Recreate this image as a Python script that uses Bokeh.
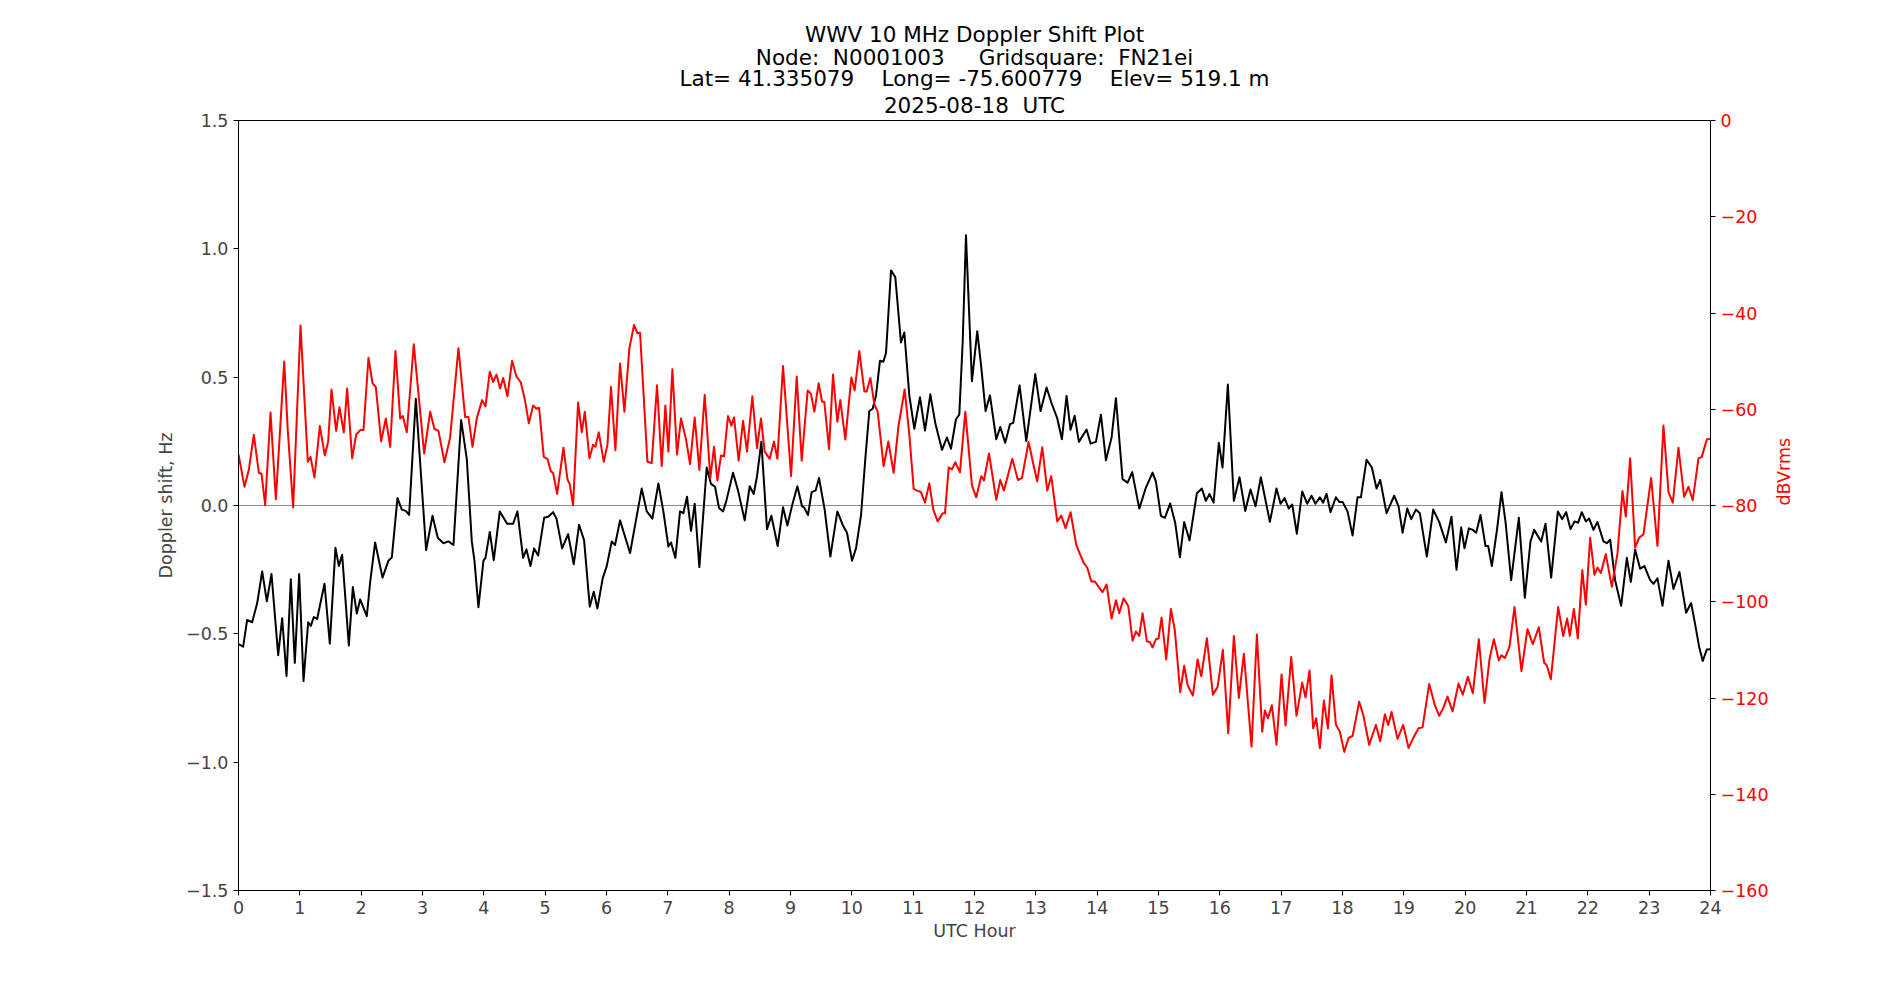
import math
from bokeh.plotting import figure
from bokeh.models import Range1d, LinearAxis, FixedTicker, Title, Span
from bokeh.embed import file_html
from bokeh.resources import INLINE

# ---------------- data ----------------
hours_doppler = [
    0.0, 0.076, 0.141, 0.223, 0.305, 0.386, 0.462, 0.538, 0.647, 0.712, 0.783, 0.853, 0.918, 0.989,
    1.060, 1.136, 1.179, 1.228, 1.282, 1.402, 1.489, 1.581, 1.636, 1.690, 1.799, 1.864,
    1.929, 1.983, 2.092, 2.147, 2.228, 2.348, 2.445, 2.500, 2.592, 2.663, 2.728, 2.782, 2.891,
    3.059, 3.163, 3.249, 3.342, 3.423, 3.505, 3.630, 3.722, 3.804, 3.847, 3.912,
    3.994, 4.027, 4.097, 4.162, 4.260, 4.380, 4.477, 4.548, 4.640, 4.695, 4.760, 4.820, 4.885,
    4.983, 5.048, 5.130, 5.184, 5.276, 5.374, 5.466, 5.553, 5.635, 5.727, 5.792, 5.852,
    5.938, 6.004, 6.085, 6.139, 6.221, 6.384, 6.574, 6.656, 6.748, 6.846, 6.927, 7.009, 7.052,
    7.123, 7.199, 7.253, 7.313, 7.378, 7.438, 7.514, 7.634, 7.704, 7.769, 7.835, 7.900,
    7.954, 8.063, 8.144, 8.253, 8.335, 8.400, 8.454, 8.525, 8.617, 8.688, 8.791, 8.878, 8.949,
    9.030, 9.112, 9.188, 9.220, 9.285, 9.345, 9.411, 9.465, 9.557, 9.650, 9.764, 9.856,
    9.921, 10.003, 10.068, 10.150, 10.220, 10.285, 10.340, 10.394, 10.459, 10.514, 10.557, 10.639,
    10.709, 10.801, 10.856, 10.937, 11.019, 11.111, 11.193, 11.280, 11.361, 11.470, 11.551, 11.616,
    11.698, 11.752, 11.807, 11.861,
    11.958, 12.045, 12.110, 12.181, 12.252, 12.355, 12.420, 12.501, 12.578, 12.632, 12.735, 12.844,
    12.991, 13.077, 13.175, 13.251, 13.349, 13.425, 13.501, 13.566, 13.632, 13.702, 13.827, 13.893,
    13.980, 14.061, 14.143, 14.235, 14.306, 14.414, 14.496, 14.572, 14.686, 14.795, 14.903, 14.958,
    15.039, 15.104, 15.191, 15.272, 15.349, 15.419, 15.506, 15.626, 15.707, 15.772, 15.832, 15.898,
    15.984, 16.044, 16.131, 16.229, 16.321, 16.414, 16.501, 16.582, 16.669, 16.816, 16.924, 16.990,
    17.055, 17.125, 17.180, 17.256, 17.343, 17.424, 17.495, 17.560, 17.631, 17.685, 17.740, 17.805,
    17.892, 17.946, 18.001, 18.082, 18.164, 18.245, 18.300, 18.392, 18.479, 18.555, 18.615, 18.718,
    18.843, 18.914, 18.979, 19.055, 19.120, 19.196, 19.261, 19.375, 19.479, 19.576, 19.685, 19.777,
    19.859, 19.935, 19.989, 20.060, 20.125, 20.180, 20.250, 20.332, 20.375, 20.435, 20.522, 20.592,
    20.658, 20.750, 20.875, 20.973, 21.065, 21.125, 21.239, 21.310, 21.402, 21.511, 21.581, 21.647,
    21.717, 21.783, 21.842, 21.902, 21.967, 22.022, 22.092, 22.157, 22.255, 22.310, 22.364, 22.445,
    22.543, 22.636, 22.701, 22.771, 22.853, 22.923, 23.016, 23.070, 23.135, 23.217, 23.315, 23.396,
    23.494, 23.603, 23.684, 23.749, 23.815, 23.874, 23.939, 24.0,
]
doppler_hz = [
    -0.54, -0.55, -0.446, -0.455, -0.38, -0.257, -0.373, -0.267, -0.583, -0.439, -0.664, -0.287, -0.613, -0.267,
    -0.684, -0.455, -0.469, -0.435, -0.442, -0.305, -0.538, -0.165, -0.236, -0.192, -0.545, -0.318,
    -0.421, -0.366, -0.431, -0.298, -0.144, -0.281, -0.215, -0.202, 0.029, -0.016, -0.021, -0.037, 0.416,
    -0.174, -0.040, -0.126, -0.147, -0.140, -0.154, 0.333, 0.182, -0.140, -0.215, -0.396,
    -0.215, -0.204, -0.103, -0.213, -0.023, -0.071, -0.071, -0.023, -0.204, -0.171, -0.236, -0.167, -0.195,
    -0.048, -0.044, -0.026, -0.051, -0.167, -0.112, -0.229, -0.075, -0.136, -0.394, -0.336, -0.401,
    -0.284, -0.236, -0.140, -0.154, -0.058, -0.185, 0.066, -0.023, -0.051, 0.086, -0.023, -0.160, -0.144,
    -0.204, -0.023, -0.030, 0.034, -0.099, 0.007, -0.240, 0.148, 0.084, 0.073, -0.010, -0.023,
    0.018, 0.128, 0.059, -0.058, 0.075, 0.045, 0.114, 0.248, -0.092, -0.040, -0.158, -0.007, -0.078,
    0.004, 0.075, -0.003, -0.007, -0.037, 0.052, 0.059, 0.107, -0.016, -0.199, -0.023, -0.078,
    -0.106, -0.215, -0.167, -0.037, 0.182, 0.368, 0.377, 0.429, 0.564, 0.560, 0.594, 0.916,
    0.889, 0.635, 0.674, 0.429, 0.299, 0.422, 0.292, 0.433, 0.320, 0.217, 0.265, 0.221,
    0.336, 0.354, 0.635, 1.053,
    0.484, 0.679, 0.539, 0.368, 0.429, 0.258, 0.306, 0.244, 0.317, 0.322, 0.468, 0.251,
    0.512, 0.368, 0.460, 0.402, 0.340, 0.258, 0.427, 0.295, 0.350, 0.248, 0.296, 0.241,
    0.248, 0.354, 0.176, 0.265, 0.418, 0.103, 0.089, 0.130, -0.012, 0.070, 0.128, 0.093,
    -0.040, -0.048, 0.008, -0.067, -0.202, -0.064, -0.136, 0.048, 0.066, 0.018, 0.045, 0.011,
    0.244, 0.148, 0.471, 0.018, 0.110, -0.021, 0.062, -0.003, 0.110, -0.064, 0.066, 0.007,
    0.029, -0.012, 0.004, -0.110, 0.055, 0.007, 0.038, 0.007, 0.032, 0.011, 0.045, -0.026,
    0.032, 0.014, 0.014, -0.023, -0.117, 0.032, 0.032, 0.178, 0.148, 0.066, 0.100, -0.030,
    0.038, -0.003, -0.106, -0.012, -0.053, -0.016, -0.030, -0.199, -0.016, -0.064, -0.144, -0.044,
    -0.250, -0.085, -0.167, -0.089, -0.095, -0.106, -0.037, -0.158, -0.158, -0.236, -0.089, 0.052,
    -0.064, -0.291, -0.048, -0.359, -0.140, -0.095, -0.140, -0.071, -0.281, -0.023, -0.053, -0.026,
    -0.092, -0.062, -0.067, -0.026, -0.062, -0.051, -0.095, -0.064, -0.140, -0.147, -0.133, -0.291,
    -0.391, -0.204, -0.298, -0.171, -0.246, -0.236, -0.291, -0.305, -0.284, -0.391, -0.215, -0.325,
    -0.259, -0.418, -0.380, -0.462, -0.551, -0.606, -0.561, -0.56,
]

hours_power = [
    0.0, 0.098, 0.169, 0.250, 0.332, 0.375, 0.435, 0.522, 0.609, 0.745, 0.804, 0.891, 1.011, 1.130,
    1.174, 1.239, 1.326, 1.407, 1.462, 1.516, 1.592, 1.646, 1.717, 1.771, 1.853,
    1.918, 1.989, 2.038, 2.119, 2.185, 2.239, 2.326, 2.402, 2.473, 2.559, 2.636, 2.679, 2.744, 2.858,
    3.027, 3.125, 3.195, 3.260, 3.358, 3.450, 3.586, 3.695, 3.749, 3.815, 3.885,
    3.972, 4.027, 4.097, 4.152, 4.206, 4.266, 4.315, 4.385, 4.461, 4.532, 4.602, 4.668, 4.733,
    4.804, 4.858, 4.901, 4.977, 5.037, 5.092, 5.130, 5.195, 5.298, 5.363, 5.401, 5.455, 5.537,
    5.597, 5.646, 5.722, 5.781, 5.819, 5.874,
    5.955, 6.015, 6.074, 6.145, 6.221, 6.292, 6.373, 6.449, 6.503, 6.547, 6.667, 6.737, 6.824,
    6.900, 6.960, 7.009, 7.074, 7.150, 7.215, 7.297, 7.362, 7.438, 7.514, 7.601, 7.693, 7.753,
    7.808, 7.867,
    7.916, 7.981, 8.036, 8.079, 8.155, 8.226, 8.291, 8.378, 8.454, 8.519, 8.579, 8.661, 8.731,
    8.786, 8.878, 9.009, 9.101, 9.182, 9.280, 9.334, 9.389, 9.459, 9.514, 9.552, 9.628, 9.693,
    9.764, 9.812, 9.894,
    9.992, 10.046, 10.122, 10.204, 10.242, 10.302, 10.367, 10.421, 10.519, 10.595, 10.682, 10.758,
    10.861, 10.937, 11.008, 11.062, 11.127, 11.193, 11.263, 11.329, 11.399, 11.481, 11.519, 11.579,
    11.633, 11.687, 11.763, 11.850,
    11.958, 12.029, 12.110, 12.154, 12.236, 12.355, 12.420, 12.480, 12.616, 12.708, 12.773, 12.882,
    12.952, 13.023, 13.105, 13.186, 13.251, 13.349, 13.414, 13.485, 13.566, 13.659, 13.730, 13.784,
    13.838, 13.904,
    13.963, 14.034, 14.088, 14.153, 14.235, 14.306, 14.360, 14.431, 14.507, 14.577, 14.632, 14.686,
    14.740, 14.811, 14.860, 14.903, 14.958, 15.001, 15.050, 15.126, 15.202, 15.267, 15.354, 15.419,
    15.474, 15.517, 15.561, 15.637, 15.697, 15.789, 15.887,
    15.963, 16.050, 16.137, 16.229, 16.310, 16.392, 16.517, 16.604, 16.691, 16.734, 16.783, 16.848,
    16.924, 17.006, 17.071, 17.164, 17.250, 17.343, 17.397, 17.462, 17.522, 17.571, 17.631, 17.696,
    17.762, 17.821,
    17.892, 17.957, 18.028, 18.099, 18.164, 18.272, 18.338, 18.435, 18.544, 18.615, 18.691, 18.745,
    18.800, 18.897, 18.990, 19.077, 19.153, 19.240, 19.305, 19.413, 19.511, 19.576, 19.641, 19.712,
    19.794, 19.892,
    19.962, 20.044, 20.125, 20.223, 20.316, 20.397, 20.468, 20.549, 20.592, 20.647, 20.723, 20.804,
    20.918, 21.016, 21.103, 21.201, 21.288, 21.331, 21.397, 21.516, 21.598, 21.663, 21.706, 21.772,
    21.837,
    21.910, 21.967, 22.038, 22.108, 22.157, 22.212, 22.293, 22.391, 22.483, 22.565, 22.619, 22.690,
    22.771, 22.836, 22.907, 23.032, 23.135, 23.233, 23.315, 23.385, 23.478, 23.570, 23.641, 23.711,
    23.804, 23.858, 23.939, 24.0,
]
power_dbvrms = [
    -69.4, -76.1, -72.5, -65.3, -73.2, -73.4, -79.9, -60.7, -78.7, -50.1, -64.5, -80.4, -42.6, -70.9,
    -69.9, -74.2, -63.5, -69.6, -66.7, -55.9, -64.5, -59.6, -64.8, -55.7, -70.2,
    -65.3, -64.3, -64.3, -49.3, -54.6, -55.4, -66.7, -61.9, -67.8, -47.9, -61.9, -61.4, -64.8, -46.5,
    -69.2, -60.5, -64.1, -64.5, -71.0, -65.9, -47.3, -61.6, -61.6, -67.8, -61.9,
    -58.1, -59.4, -52.2, -54.3, -52.8, -55.7, -53.5, -57.3, -49.9, -53.2, -54.4, -57.9, -62.9,
    -59.2, -59.9, -59.7, -69.9, -70.3, -72.9, -73.2, -77.6, -68.0, -74.5, -75.6, -79.9, -58.6,
    -64.8, -60.5, -70.2, -67.4, -67.8, -64.8,
    -70.9, -67.4, -55.4, -68.5, -50.5, -60.5, -47.3, -42.5, -44.2, -44.1, -70.9, -71.2, -55.0,
    -71.8, -59.2, -68.8, -51.7, -69.4, -61.9, -66.3, -71.4, -61.7, -72.6, -57.0, -74.3, -67.8,
    -74.8, -69.6,
    -69.8, -61.4, -63.4, -61.7, -70.7, -62.4, -68.8, -57.3, -68.1, -61.9, -68.8, -70.3, -66.7,
    -70.3, -51.0, -73.9, -53.2, -70.7, -56.1, -56.8, -60.5, -54.6, -58.4, -58.5, -68.3, -52.8,
    -62.6, -58.1, -66.3,
    -53.4, -56.1, -47.9, -56.3, -56.3, -53.5, -59.0, -60.5, -71.8, -66.7, -73.2, -63.7,
    -55.9, -65.2, -76.5, -76.9, -77.2, -79.4, -75.4, -80.9, -83.3, -81.6, -81.6, -72.1,
    -72.5, -71.0, -73.1, -60.5,
    -75.8, -78.3, -73.9, -74.8, -69.2, -78.8, -74.7, -76.9, -70.3, -74.7, -74.3, -66.8,
    -71.0, -75.0, -67.9, -76.9, -73.9, -83.3, -82.1, -84.7, -81.4, -88.2, -90.4, -92.0,
    -92.9, -95.8,
    -95.8, -97.1, -98.0, -96.4, -103.5, -99.7, -102.4, -99.3, -100.9, -108.1, -106.2, -107.1,
    -102.4, -108.2, -108.4, -109.5, -107.8, -107.6, -103.3, -112.0, -101.5, -106.0, -118.8, -113.3,
    -117.3, -118.4, -119.5, -112.0, -115.5, -107.6, -119.3,
    -117.7, -110.0, -127.3, -107.1, -120.0, -110.8, -130.1, -106.8, -127.0, -122.6, -124.2, -121.5,
    -129.7, -115.1, -125.7, -111.5, -123.7, -116.8, -119.9, -114.3, -126.3, -124.2, -130.4, -120.5,
    -126.3, -115.3,
    -125.5, -127.0, -131.2, -128.3, -127.9, -120.8, -123.5, -129.7, -125.6, -129.0, -123.4, -125.6,
    -122.9, -128.5, -125.6, -130.4, -128.3, -126.3, -126.1, -117.1, -121.7, -123.7, -122.1, -119.7,
    -122.8, -117.0,
    -119.3, -115.6, -119.0, -107.8, -121.0, -111.9, -107.8, -112.2, -111.1, -111.7, -109.3, -101.1,
    -114.4, -105.7, -108.8, -105.3, -112.7, -113.2, -116.1, -101.1, -107.1, -103.5, -107.1, -101.5,
    -107.6,
    -93.4, -100.6, -86.7, -94.4, -92.9, -94.0, -90.1, -96.9, -90.0, -77.0, -82.3, -70.2,
    -88.7, -86.7, -86.0, -74.3, -88.4, -63.4, -77.2, -79.4, -68.0, -78.2, -76.1, -78.9,
    -70.2, -69.9, -66.3, -66.1,
]

title_lines = [
    "WWV 10 MHz Doppler Shift Plot",
    "Node:  N0001003     Gridsquare:  FN21ei",
    "Lat= 41.335079    Long= -75.600779    Elev= 519.1 m",
    "2025-08-18  UTC",
]
x_ticks = list(range(0, 25))
hz_ticks = [-1.5, -1.0, -0.5, 0.0, 0.5, 1.0, 1.5]
db_ticks = [-160, -140, -120, -100, -80, -60, -40, -20, 0]
x_label = "UTC Hour"
left_label = "Doppler shift, Hz"
right_label = "dBVrms"

FONT = "DejaVu Sans"
TICK_FS = "17.5px"
TITLE_FS = "21.5px"
# gap (standoff) under each title line, nearest-to-frame line first
TITLE_STANDOFFS = [6, -7, -4.5, -4.5]


def keep_spaces(s):
    # keep runs of spaces visible in SVG text
    return s.replace("  ", " \u00a0")


p = figure(
    width=1900, height=1000,
    output_backend="svg", toolbar_location=None,
    x_range=Range1d(0, 24), y_range=Range1d(-1.5, 1.5),
    min_border_left=238, min_border_right=190,
    min_border_top=120, min_border_bottom=110,
    background_fill_color="white", border_fill_color="white",
)
p.extra_y_ranges = {"db": Range1d(-160, 0)}
p.xgrid.visible = False
p.ygrid.visible = False
p.outline_line_color = "black"
p.outline_line_width = 1
p.outline_line_alpha = 1.0

# Title lines: the first one added sits closest to the frame
for i, line in enumerate(reversed(title_lines)):
    t = Title(
        text=keep_spaces(line), align="center",
        text_font=FONT, text_font_size=TITLE_FS, text_font_style="normal",
        text_color="black", text_line_height=1.0,
        standoff=TITLE_STANDOFFS[i],
    )
    p.add_layout(t, "above")


def style_axis(ax):
    ax.major_label_text_font = FONT
    ax.major_label_text_font_size = TICK_FS
    ax.axis_label_text_font = FONT
    ax.axis_label_text_font_size = TICK_FS
    ax.axis_label_text_font_style = "normal"
    ax.major_tick_out = 5
    ax.major_tick_in = 0
    ax.minor_tick_line_color = None
    ax.major_label_standoff = 5
    ax.axis_line_color = "black"
    ax.major_tick_line_color = "black"


xa = p.xaxis[0]
style_axis(xa)
xa.ticker = FixedTicker(ticks=x_ticks)
xa.axis_label = x_label
xa.axis_label_standoff = 4

ya = p.yaxis[0]
style_axis(ya)
ya.ticker = FixedTicker(ticks=hz_ticks)
ya.major_label_overrides = {t: f"{t:.1f}".replace("-", "\u2212") for t in hz_ticks}
ya.axis_label = left_label
ya.axis_label_standoff = 7

ra = LinearAxis(y_range_name="db")
style_axis(ra)
ra.ticker = FixedTicker(ticks=db_ticks)
ra.major_label_overrides = {t: str(t).replace("-", "\u2212") for t in db_ticks}
ra.major_label_text_color = "red"
ra.axis_label = right_label
ra.axis_label_text_color = "red"
ra.axis_label_standoff = 12
ra.axis_label_orientation = math.pi / 2
p.add_layout(ra, "right")

zero_line = Span(location=0, dimension="width", line_color="#8c8c8c", line_width=1.2, level="underlay")
p.add_layout(zero_line)

p.line(hours_doppler, doppler_hz, line_color="black", line_width=2, line_join="round")
p.line(hours_power, power_dbvrms, line_color="red", line_width=2, line_join="round", y_range_name="db")

open("out.html", "w").write(file_html(p, INLINE))
